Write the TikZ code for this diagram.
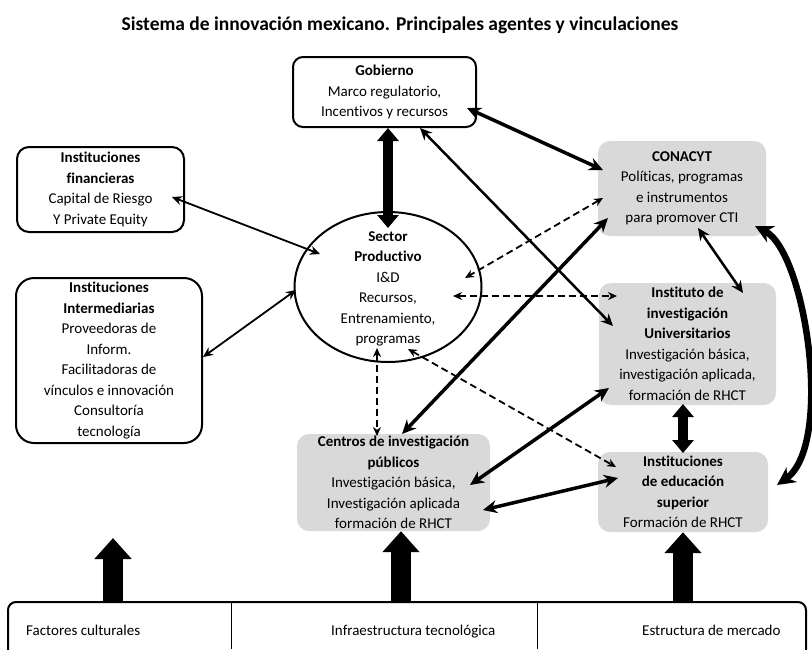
\documentclass[tikz,border=0pt]{standalone}
\usepackage{fontspec}
\setmainfont{Carlito}[RawFeature={-liga;-clig;-dlig}]
\usetikzlibrary{arrows.meta,calc,shapes.geometric}
\begin{document}
\begin{tikzpicture}[x=1pt,y=-1pt,
  every node/.style={font=\fontsize{15}{20.5}\selectfont, align=center, inner sep=0pt},
  wbox/.style={draw, line width=2pt, fill=white, rounded corners=10pt},
  gbox/.style={fill=black!15, rounded corners=12pt},
  thk/.style={line width=3.5pt, arrows={Stealth[length=14pt,width=13pt]-Stealth[length=14pt,width=13pt]}},
  med/.style={line width=2.5pt, arrows={Stealth[length=12pt,width=11pt]-Stealth[length=12pt,width=11pt]}},
  thn/.style={line width=1.8pt, arrows={Stealth[length=10pt,width=9pt]-Stealth[length=10pt,width=9pt]}},
  dsh/.style={line width=1.8pt, dash pattern=on 7pt off 4pt, arrows={Stealth[length=9pt,width=8pt]-Stealth[length=9pt,width=8pt]}},
  blk/.style={line width=10pt, arrows={Triangle[length=13pt,width=21pt]-Triangle[length=13pt,width=21pt]}},
  up/.style={line width=20pt, arrows={-Triangle[length=21pt,width=36pt]}}
]
\useasboundingbox (0,0) rectangle (812,649);
\clip (0,0) rectangle (812,649);

\node[font=\fontsize{19.5}{23}\selectfont\bfseries] (title) at (400,25)
  {Sistema de innovación mexicano. Principales agentes y vinculaciones};

% boxes
\node[wbox, minimum width=183pt, minimum height=70pt] (gob) at (384.5,92)
  {\textbf{Gobierno}\\Marco regulatorio,\\Incentivos y recursos};
\node[wbox, rounded corners=12pt, minimum width=167pt, minimum height=85pt] (fin) at (100.5,189.5)
  {\textbf{Instituciones}\\\textbf{financieras}\\Capital de Riesgo\\Y Private Equity};
\node[wbox, rounded corners=18pt, minimum width=186pt, minimum height=165pt] (inter) at (109,360.5)
  {\textbf{Instituciones}\\\textbf{Intermediarias}\\Proveedoras de\\Inform.\\Facilitadoras de\\vínculos e innovación\\Consultoría\\tecnología};
\node[ellipse, draw, line width=2pt, fill=white, minimum width=187pt, minimum height=150pt] (sec) at (388,287) {};
\node at (388,289) {\textbf{Sector}\\\textbf{Productivo}\\I\&D\\Recursos,\\Entrenamiento,\\programas};
\node[gbox, minimum width=168pt, minimum height=95pt] (con) at (682,188.5)
  {\textbf{CONACYT}\\Políticas, programas\\e instrumentos\\para promover CTI};
\node[gbox, minimum width=177pt, minimum height=122pt] (inst) at (687.5,344)
  {\textbf{Instituto de}\\\textbf{investigación}\\\textbf{Universitarios}\\Investigación básica,\\investigación aplicada,\\formación de RHCT};
\node[gbox, minimum width=170pt, minimum height=80pt] (edu) at (683,492)
  {\textbf{Instituciones}\\\textbf{de educación}\\\textbf{superior}\\Formación de RHCT};
\node[gbox, minimum width=193pt, minimum height=97pt] (cen) at (393.5,482.5)
  {\textbf{Centros de investigación}\\\textbf{públicos}\\Investigación básica,\\Investigación aplicada\\formación de RHCT};

% bottom bar
\node[draw, line width=2pt, rounded corners=8pt, minimum width=798pt, minimum height=70pt] (bar) at (407,637) {};
\draw[line width=1pt] (231,602) -- (231,649);
\draw[line width=1pt] (537,602) -- (537,649);
\node[anchor=base west] (fc) at (26,635) {Factores culturales};
\node[anchor=base west] (it) at (331,635) {Infraestructura tecnológica};
\node[anchor=base west] (em) at (642,635) {Estructura de mercado};

% connectors
\draw[blk] ([xshift=3.5pt]gob.south) -- ($(sec.center)+(0,-59)$);
\draw[thk] ($(gob.center)+(82.5,16)$) -- ($(con.center)+(-79,-18.5)$);
\draw[med] ($(gob.center)+(35.5,36)$) -- ($(inst.center)+(-74.5,-18)$);
\draw[thn] ($(fin.center)+(71.5,7.5)$) -- ($(sec.center)+(-68,-33)$);
\draw[thn] ($(inter.center)+(94,-3.5)$) -- ($(sec.center)+(-92,3)$);
\draw[dsh] ($(con.center)+(-79,9.5)$) -- ($(sec.center)+(77,-9)$);
\draw[dsh] ($(sec.center)+(65,9)$) -- ($(inst.center)+(-70.5,-48)$);
\draw[thk] ($(con.center)+(-74,29.5)$) -- ($(cen.center)+(8.5,-48.5)$);
\draw[dsh] ($(sec.center)+(-11,61)$) -- ($(cen.center)+(-16.5,-46.5)$);
\draw[dsh] ($(sec.center)+(20,62)$) -- ($(edu.center)+(-67,-25)$);
\draw[thk] ($(cen.center)+(76.5,2.5)$) -- ($(inst.center)+(-78.5,44)$);
\draw[thk] ($(cen.center)+(89.5,27.5)$) -- ($(edu.center)+(-65,-14)$);
\draw[med] ($(con.center)+(16,39.5)$) -- ($(inst.center)+(55.5,-51)$);
\draw[blk] ($(inst.center)+(-4.5,60)$) -- ($(edu.center)+(0,-39)$);
\draw[line width=6.5pt, arrows={Stealth[length=18pt,width=18pt]-Stealth[length=18pt,width=18pt]}]
  ($(con.center)+(73,37.5)$) .. controls (806,252) and (834,445) .. ($(edu.center)+(94,-7)$);

% up arrows
\coordinate (fcup) at (113,538);
\draw[up] (113,602) -- (fcup);
\draw[up] (bar.north -| cen.south) ++(7.5,0) -- ([xshift=7.5pt]cen.south);
\draw[up] (bar.north -| edu.south) -- (edu.south);
\end{tikzpicture}
\end{document}
